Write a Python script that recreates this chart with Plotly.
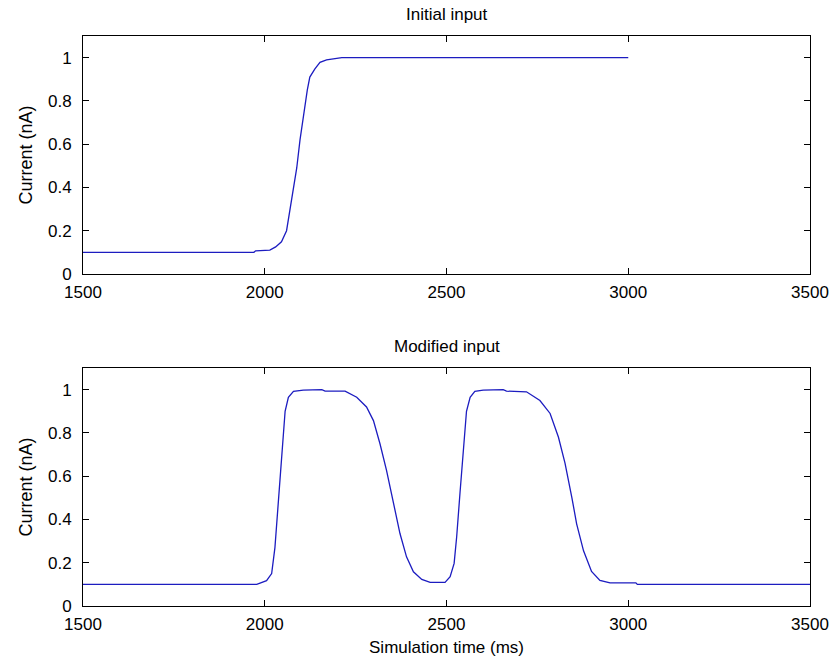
import plotly.graph_objects as go
from plotly.subplots import make_subplots

# Initial input (top)
t_init = [1500, 1970, 1975, 2014, 2030, 2046, 2060, 2074, 2088, 2097, 2106, 2117,
          2124, 2138, 2152, 2170, 2212, 3000]
i_init = [0.1, 0.1, 0.107, 0.11, 0.125, 0.149, 0.20, 0.34, 0.49, 0.62, 0.725, 0.85,
          0.91, 0.948, 0.978, 0.99, 1.0, 1.0]

# Modified input (bottom)
t_mod = [1500, 1978, 2005, 2019, 2028, 2037, 2044, 2049, 2056, 2065, 2079, 2106, 2157,
         2166, 2221, 2253, 2280, 2299, 2317, 2335, 2354, 2372, 2390, 2409, 2432, 2455,
         2496, 2510, 2521, 2528, 2537, 2546, 2555, 2565, 2578, 2601, 2656, 2665, 2720,
         2757, 2785, 2808, 2826, 2845, 2858, 2877, 2899, 2922, 2950, 3021, 3025, 3500]
i_mod = [0.1, 0.1, 0.117, 0.15, 0.27, 0.47, 0.63, 0.78, 0.90, 0.965, 0.992, 0.998, 1.0,
         0.993, 0.993, 0.965, 0.92, 0.857, 0.75, 0.627, 0.47, 0.335, 0.227, 0.158, 0.123, 0.109,
         0.109, 0.135, 0.197, 0.32, 0.52, 0.734, 0.90, 0.965, 0.992, 0.998, 1.0, 0.993, 0.99,
         0.95, 0.89, 0.78, 0.66, 0.50, 0.38, 0.255, 0.16, 0.118, 0.107, 0.107, 0.1, 0.1]

x_ticks = [1500, 2000, 2500, 3000, 3500]
y_ticks = [0, 0.2, 0.4, 0.6, 0.8, 1]
y_ticklabels = ["0", "0.2", "0.4", "0.6", "0.8", "1"]

titles = ["Initial input", "Modified input"]
x_title = "Simulation time (ms)"
y_title = "Current (nA)"

line_color = "#1c1cc0"
tick_font = dict(family="Liberation Sans, Arial", size=17, color="black")
title_font = dict(family="Liberation Sans, Arial", size=17, color="black")
label_font = dict(family="Liberation Sans, Arial", size=18, color="black")

fig = make_subplots(rows=2, cols=1, vertical_spacing=0.165)
fig.add_trace(go.Scatter(x=t_init, y=i_init, mode="lines",
                         line=dict(color=line_color, width=1.3), showlegend=False), row=1, col=1)
fig.add_trace(go.Scatter(x=t_mod, y=i_mod, mode="lines",
                         line=dict(color=line_color, width=1.3), showlegend=False), row=2, col=1)

axis_common = dict(showline=True, linecolor="black", linewidth=1, mirror="ticks",
                   ticks="inside", ticklen=6, tickcolor="black", showgrid=False,
                   zeroline=False, tickfont=tick_font, ticklabeloverflow="allow",
                   automargin=False)
for r in (1, 2):
    fig.update_xaxes(range=[1500, 3500], tickvals=x_ticks, ticklabelstandoff=3,
                     row=r, col=1, **axis_common)
    fig.update_yaxes(range=[0, 1.1], tickvals=y_ticks, ticktext=y_ticklabels,
                     ticklabelstandoff=7,
                     title=dict(text=y_title, font=label_font, standoff=10),
                     row=r, col=1, **axis_common)

fig.update_xaxes(title=dict(text=x_title, font=title_font, standoff=7), row=2, col=1)
fig.update_layout(
    width=830, height=666,
    margin=dict(l=83, r=20, t=36, b=60),
    paper_bgcolor="white", plot_bgcolor="white",
    yaxis=dict(domain=[0.5825, 1.0]),
    yaxis2=dict(domain=[0.0, 0.4175]),
    annotations=[
        dict(text=titles[0], x=0.5, xref="x domain", y=1.0, yref="y domain",
             yanchor="bottom", yshift=10, showarrow=False, font=title_font),
        dict(text=titles[1], x=0.5, xref="x2 domain", y=1.0, yref="y2 domain",
             yanchor="bottom", yshift=10, showarrow=False, font=title_font),
    ],
)

fig.write_html("out.html")
